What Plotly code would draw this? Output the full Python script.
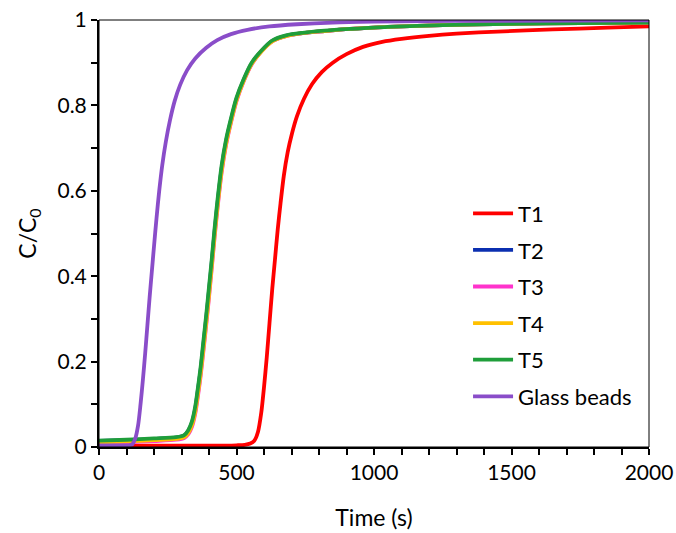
import plotly.graph_objects as go

# ---- data ----
time_t1 = [0, 200, 400, 500, 530, 550, 565, 578, 590, 600, 610, 620, 630, 640, 650, 660, 672,
           686, 702, 720, 745, 775, 810, 850, 900, 960, 1030, 1100, 1200, 1300, 1450, 1650,
           1850, 2000]
c_t1 = [0.003, 0.003, 0.003, 0.004, 0.005, 0.008, 0.015, 0.035, 0.08, 0.14, 0.21, 0.29, 0.37,
        0.44, 0.51, 0.57, 0.635, 0.69, 0.735, 0.775, 0.815, 0.85, 0.878, 0.90, 0.92, 0.937,
        0.949, 0.956, 0.963, 0.968, 0.973, 0.978, 0.982, 0.985]

time_t = [0, 100, 200, 280, 310, 325, 338, 350, 360, 370, 380, 390, 400, 410, 420, 432, 446,
          462, 480, 500, 525, 555, 590, 630, 680, 740, 820, 913, 1050, 1250, 1500, 1750, 2000]
c_t2 = [0.014, 0.016, 0.019, 0.022, 0.027, 0.038, 0.057, 0.09, 0.135, 0.183, 0.242, 0.302,
        0.366, 0.432, 0.502, 0.577, 0.653, 0.715, 0.766, 0.815, 0.858, 0.898, 0.927, 0.951,
        0.963, 0.969, 0.974, 0.979, 0.984, 0.988, 0.991, 0.993, 0.994]
c_t3 = [0.009, 0.011, 0.014, 0.017, 0.021, 0.030, 0.047, 0.078, 0.12, 0.168, 0.226, 0.286,
        0.35, 0.418, 0.488, 0.565, 0.643, 0.707, 0.76, 0.81, 0.855, 0.896, 0.926, 0.95,
        0.962, 0.969, 0.974, 0.979, 0.984, 0.988, 0.991, 0.993, 0.994]
c_t4 = [0.011, 0.013, 0.016, 0.019, 0.023, 0.033, 0.051, 0.083, 0.126, 0.174, 0.232, 0.292,
        0.356, 0.423, 0.493, 0.57, 0.647, 0.71, 0.762, 0.812, 0.856, 0.897, 0.926, 0.95,
        0.962, 0.969, 0.974, 0.979, 0.984, 0.988, 0.991, 0.993, 0.994]
c_t5 = [0.015, 0.017, 0.020, 0.023, 0.028, 0.040, 0.060, 0.095, 0.14, 0.19, 0.25, 0.31,
        0.375, 0.44, 0.51, 0.585, 0.66, 0.72, 0.77, 0.818, 0.86, 0.90, 0.928, 0.952,
        0.964, 0.970, 0.975, 0.979, 0.984, 0.988, 0.991, 0.993, 0.994]

time_gb = [0, 60, 110, 122, 132, 142, 151, 160, 168, 176, 184, 192, 200, 209, 219, 230, 243,
           258, 275, 295, 320, 350, 390, 430, 480, 540, 620, 720, 850, 1000, 1300, 2000]
c_gb = [0.004, 0.004, 0.004, 0.007, 0.02, 0.05, 0.10, 0.16, 0.22, 0.285, 0.35, 0.41, 0.47,
        0.535, 0.60, 0.66, 0.715, 0.765, 0.81, 0.848, 0.882, 0.91, 0.935, 0.953, 0.967, 0.977,
        0.985, 0.99, 0.994, 0.996, 0.998, 0.999]

series_names = ["T1", "T2", "T3", "T4", "T5", "Glass beads"]
series_colors = ["#FF0000", "#0B2FB0", "#FF33CC", "#FFC000", "#1F9E3A", "#8A4DC9"]

x_ticks = [0, 500, 1000, 1500, 2000]
y_ticks = [0, 0.2, 0.4, 0.6, 0.8, 1]
y_tick_labels = ["0", "0.2", "0.4", "0.6", "0.8", "1"]

FONT = "Lato"

fig = go.Figure()
xs = [time_t1, time_t, time_t, time_t, time_t, time_gb]
ys = [c_t1, c_t2, c_t3, c_t4, c_t5, c_gb]
for i, (name, col) in enumerate(zip(series_names, series_colors)):
    fig.add_trace(go.Scatter(
        x=xs[i], y=ys[i], mode="lines", name=name, legendgroup=name,
        line=dict(color=col, width=3.8, shape="spline", smoothing=0.8),
    ))

fig.update_layout(
    width=676, height=533,
    margin=dict(l=99, r=27, t=20, b=86),
    paper_bgcolor="white", plot_bgcolor="white",
    font=dict(family=FONT, size=21, color="#000000"),
    showlegend=True,
    legend=dict(
        x=0.671, y=0.596, xanchor="left", yanchor="top",
        bgcolor="rgba(0,0,0,0)", font=dict(family=FONT, size=22, color="#000000"),
        tracegroupgap=5, itemwidth=40,
    ),
    shapes=[dict(type="rect", xref="paper", yref="paper", x0=0, x1=1, y0=0, y1=1,
                 line=dict(color="#000000", width=1), layer="above")],
)

fig.update_xaxes(
    range=[0, 2000], tickvals=x_ticks, ticktext=[str(v) for v in x_ticks],
    showgrid=False, zeroline=False, automargin=False,
    showline=True, linecolor="#000000", linewidth=2,
    ticks="outside", ticklen=6, tickwidth=1.5, tickcolor="#000000",
    minor=dict(dtick=100, ticks="outside", ticklen=6, tickwidth=1.5, tickcolor="#000000", showgrid=False),
    tickfont=dict(family=FONT, size=21),
    title=dict(text="Time (s)", font=dict(family=FONT, size=23), standoff=27),
)
fig.update_yaxes(
    range=[0, 1], tickvals=y_ticks, ticktext=y_tick_labels,
    showgrid=False, zeroline=False, automargin=False,
    showline=True, linecolor="#000000", linewidth=2,
    ticks="outside", ticklen=6, tickwidth=1.5, tickcolor="#000000",
    minor=dict(dtick=0.1, ticks="outside", ticklen=6, tickwidth=1.5, tickcolor="#000000", showgrid=False),
    tickfont=dict(family=FONT, size=21),
    title=dict(text="C/C<sub>0</sub>", font=dict(family=FONT, size=23), standoff=14),
)

fig.write_html("out.html")
